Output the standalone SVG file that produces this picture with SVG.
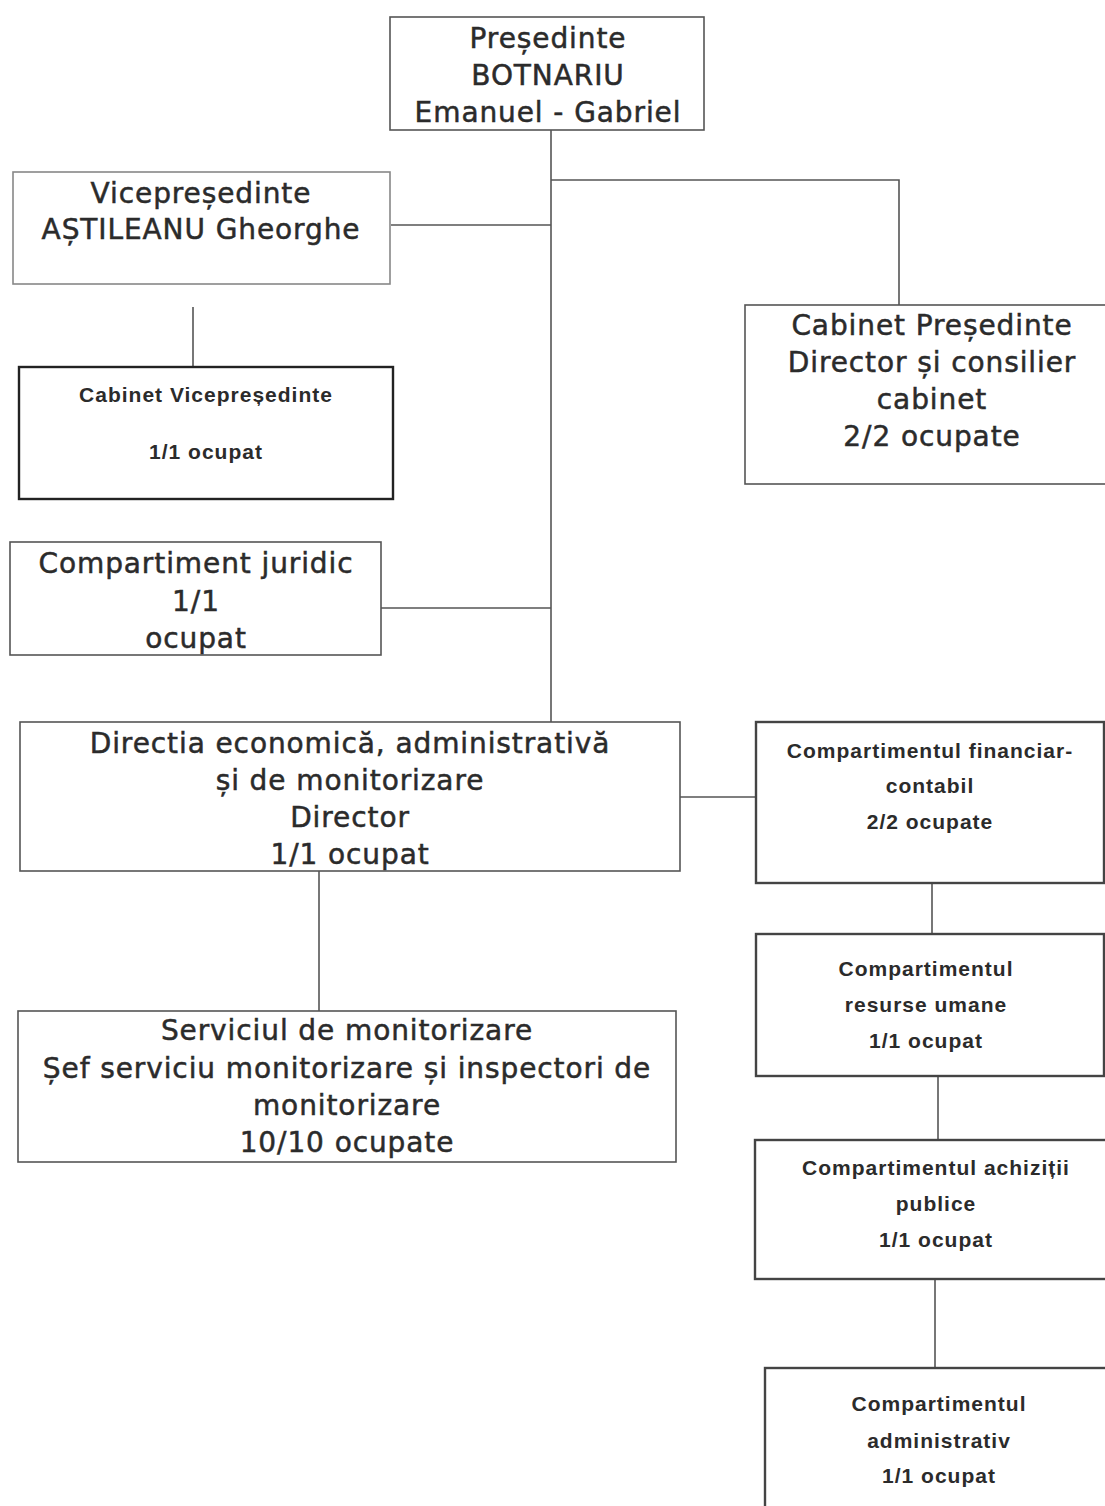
<svg xmlns="http://www.w3.org/2000/svg" width="1105" height="1506" viewBox="0 0 1105 1506">
<style>
.box{fill:#fff;stroke:#555;stroke-width:1.6}
.thick{stroke:#444;stroke-width:2.4}
.big{font-family:"DejaVu Sans",sans-serif;font-size:28px;letter-spacing:0.9px;fill:#2b2b2b;stroke:#2b2b2b;stroke-width:0.5;text-anchor:middle}
.sm{font-family:"Liberation Sans",Arial,sans-serif;font-weight:bold;font-size:21px;letter-spacing:1px;fill:#2b2b2b;text-anchor:middle}
.conn{fill:none;stroke:#555;stroke-width:1.6}
</style>
<rect width="1105" height="1506" fill="#fff"/>
<g id="connectors" class="conn">
<path d="M551 130V722"/>
<path d="M551 180H899V318"/>
<path d="M391 225H551"/>
<path d="M193 307V367"/>
<path d="M381 608H551"/>
<path d="M680 797H756"/>
<path d="M319 871V1012"/>
<path d="M932 883V935"/>
<path d="M938 1076V1140"/>
<path d="M935 1279V1368"/>
</g>
<g id="presedinte">
<rect class="box" x="390" y="17" width="314" height="113"/>
<text class="big" x="548" y="48">Președinte</text>
<text class="big" x="548" y="85">BOTNARIU</text>
<text class="big" x="548" y="122">Emanuel - Gabriel</text>
</g>
<g id="vicepresedinte">
<rect class="box" x="13" y="172" width="377" height="112" style="stroke:#888"/>
<text class="big" x="201" y="203">Vicepreședinte</text>
<text class="big" x="201" y="239">AȘTILEANU Gheorghe</text>
</g>
<g id="cabinet-vicepresedinte">
<rect class="box" x="19" y="367" width="374" height="132" style="stroke:#222;stroke-width:2.4"/>
<text class="sm" x="206" y="402">Cabinet Vicepreședinte</text>
<text class="sm" x="206" y="459">1/1 ocupat</text>
</g>
<g id="cabinet-presedinte">
<rect class="box" x="745" y="305" width="370" height="179"/>
<text class="big" x="932" y="335">Cabinet Președinte</text>
<text class="big" x="932" y="372">Director și consilier</text>
<text class="big" x="932" y="409">cabinet</text>
<text class="big" x="932" y="446">2/2 ocupate</text>
</g>
<g id="compartiment-juridic">
<rect class="box" x="10" y="542" width="371" height="113"/>
<text class="big" x="196" y="573">Compartiment juridic</text>
<text class="big" x="196" y="611">1/1</text>
<text class="big" x="196" y="648">ocupat</text>
</g>
<g id="directia">
<rect class="box" x="20" y="722" width="660" height="149"/>
<text class="big" x="350" y="753">Directia economică, administrativă</text>
<text class="big" x="350" y="790">și de monitorizare</text>
<text class="big" x="350" y="827">Director</text>
<text class="big" x="350" y="864">1/1 ocupat</text>
</g>
<g id="serviciul-monitorizare">
<rect class="box" x="18" y="1011" width="658" height="151"/>
<text class="big" x="347" y="1040">Serviciul de monitorizare</text>
<text class="big" x="347" y="1078">Șef serviciu monitorizare și inspectori de</text>
<text class="big" x="347" y="1115">monitorizare</text>
<text class="big" x="347" y="1152">10/10 ocupate</text>
</g>
<g id="financiar-contabil">
<rect class="box thick" x="756" y="722" width="348" height="161"/>
<text class="sm" x="930" y="758">Compartimentul financiar-</text>
<text class="sm" x="930" y="793">contabil</text>
<text class="sm" x="930" y="829">2/2 ocupate</text>
</g>
<g id="resurse-umane">
<rect class="box thick" x="756" y="934" width="348" height="142"/>
<text class="sm" x="926" y="976">Compartimentul</text>
<text class="sm" x="926" y="1012">resurse umane</text>
<text class="sm" x="926" y="1048">1/1 ocupat</text>
</g>
<g id="achizitii-publice">
<rect class="box thick" x="755" y="1140" width="360" height="139"/>
<text class="sm" x="936" y="1175">Compartimentul achiziții</text>
<text class="sm" x="936" y="1211">publice</text>
<text class="sm" x="936" y="1247">1/1 ocupat</text>
</g>
<g id="administrativ">
<rect class="box thick" x="765" y="1368" width="350" height="150"/>
<text class="sm" x="939" y="1411">Compartimentul</text>
<text class="sm" x="939" y="1448">administrativ</text>
<text class="sm" x="939" y="1483">1/1 ocupat</text>
</g>
</svg>
